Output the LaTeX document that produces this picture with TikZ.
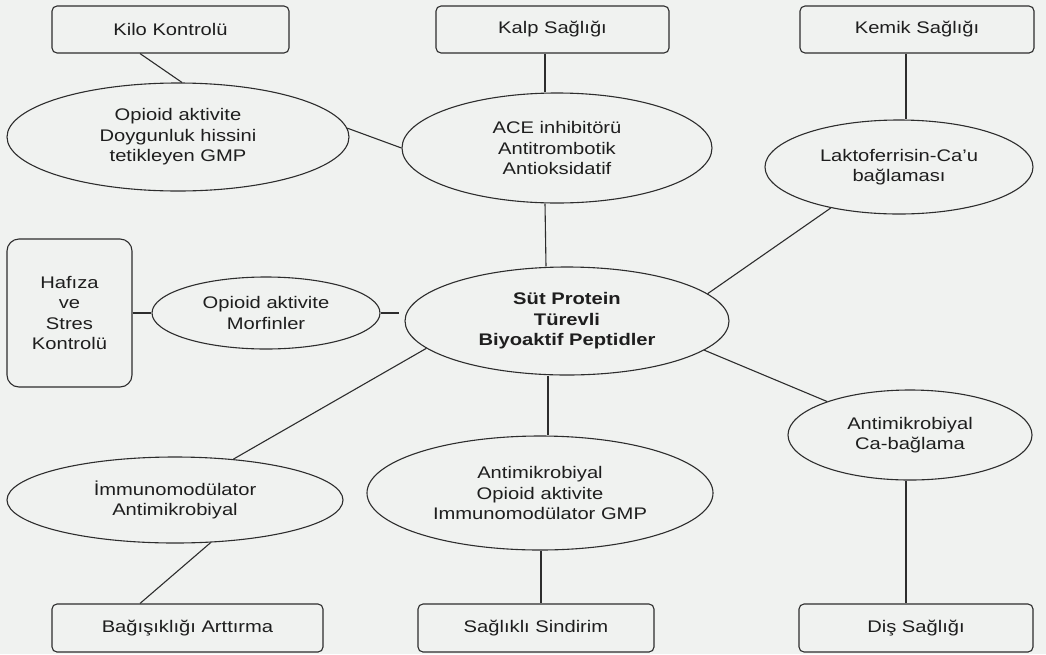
\documentclass[tikz,border=0pt]{standalone}
\usepackage{fontspec}
\setmainfont{Liberation Sans}[FakeStretch=1.2]
\usetikzlibrary{shapes.geometric,calc}
\definecolor{bg}{RGB}{240,242,240}
\definecolor{ln}{RGB}{45,45,45}
\definecolor{tx}{RGB}{30,30,30}
\begin{document}
\begin{tikzpicture}[x=1pt,y=-1pt,
  every node/.style={font=\fontsize{16.8}{20.5}\selectfont, text=tx, align=center, inner sep=0pt},
  box/.style={draw=ln, line width=1.1pt, rounded corners=5pt, rectangle},
  ell/.style={draw=ln, line width=1.1pt, ellipse},
  conn/.style={draw=ln, line width=1.1pt}]
\fill[bg] (0,0) rectangle (1046,654);
\useasboundingbox (0,0) rectangle (1046,654);
% boxes
\node[box, minimum width=237pt, minimum height=47pt] (kilo) at (170.5,29.5) {Kilo Kontrolü};
\node[box, minimum width=233pt, minimum height=47pt] (kalp) at (552.5,29.5) {Kalp Sağlığı};
\node[box, minimum width=234pt, minimum height=47pt] (kemik) at (917,29.5) {Kemik Sağlığı};
\node[box, rounded corners=12pt, minimum width=125pt, minimum height=148pt] (haf) at (69.5,313) {Hafıza\\ve\\Stres\\Kontrolü};
\node[box, minimum width=271pt, minimum height=48pt] (bag) at (187.5,628) {Bağışıklığı Arttırma};
\node[box, minimum width=236pt, minimum height=48pt] (sin) at (536,628) {Sağlıklı Sindirim};
\node[box, minimum width=234pt, minimum height=48pt] (dis) at (916,628) {Diş Sağlığı};
% ellipses
\node[ell, minimum width=342pt, minimum height=108pt] (opd) at (178,137) {Opioid aktivite\\Doygunluk hissini\\tetikleyen GMP};
\node[ell, minimum width=310pt, minimum height=110pt] (ace) at (557,148) {ACE inhibitörü\\Antitrombotik\\Antioksidatif};
\node[ell, minimum width=268pt, minimum height=94pt] (lak) at (899,167) {Laktoferrisin-Ca’u\\bağlaması};
\node[ell, minimum width=228pt, minimum height=72pt] (mor) at (266,313) {Opioid aktivite\\Morfinler};
\node[ell, minimum width=324pt, minimum height=108pt, font=\fontsize{16.8}{20.5}\selectfont\bfseries] (cen) at (567,321) {Süt Protein\\Türevli\\Biyoaktif Peptidler};
\node[ell, minimum width=244pt, minimum height=90pt] (cab) at (910,435) {Antimikrobiyal\\Ca-bağlama};
\node[ell, minimum width=336pt, minimum height=86pt] (imm) at (175,500) {İmmunomodülator\\Antimikrobiyal};
\node[ell, minimum width=346pt, minimum height=114pt] (gmp) at (540,493) {Antimikrobiyal\\Opioid aktivite\\Immunomodülator GMP};
% connectors
\draw[conn] ([xshift=-30.5pt]kilo.south) -- ([xshift=4pt]opd.north);
\draw[conn] (opd.3) -- (ace.west);
\draw[conn] ([xshift=-7.5pt]kalp.south) -- ([xshift=-12pt]ace.north);
\draw[conn] ([xshift=-12pt]ace.south) -- ([xshift=-21pt]cen.north);
\draw[conn] ([xshift=-11pt]kemik.south) -- ([xshift=7pt]lak.north);
\draw[conn] (lak.211) -- (cen.11);
\draw[conn] (haf.east) -- (mor.west);
\draw[conn] (mor.east) -- ($(mor.east -| cen.west)+(-5,0)$);
\draw[conn] (cen.191) -- (imm.35);
\draw[conn] (imm.310) -- ([xshift=-47.5pt]bag.north);
\draw[conn] ([xshift=-19pt]cen.south) -- ([xshift=8pt]gmp.north);
\draw[conn] ([xshift=1pt]gmp.south) -- ([xshift=5pt]sin.north);
\draw[conn] (cen.348) -- (cab.158);
\draw[conn] ([xshift=-4pt]cab.south) -- ([xshift=-10pt]dis.north);
\end{tikzpicture}
\end{document}
